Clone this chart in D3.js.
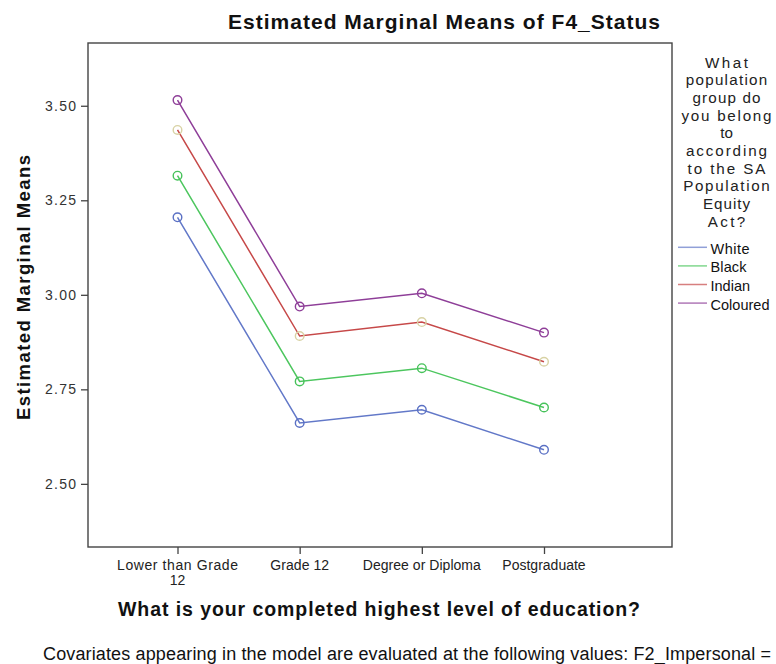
<!DOCTYPE html>
<html>
<head>
<meta charset="utf-8">
<script src="https://cdn.jsdelivr.net/npm/d3@7"></script>
<style>
  html, body { margin: 0; padding: 0; background: #fff; }
  svg { display: block; font-family: Arial, "Liberation Sans", sans-serif; }
</style>
</head>
<body>
<svg id="chart" width="776" height="664"></svg>
<script>
// Education levels on the x axis
const categories = ["Lower than Grade 12", "Grade 12", "Degree or Diploma", "Postgraduate"];
// Population groups (legend order)
const groups = ["White", "Black", "Indian", "Coloured"];
// Estimated marginal means per group, one value per education level
const white    = [3.205, 2.661, 2.696, 2.590];
const black    = [3.315, 2.771, 2.806, 2.702];
const indian   = [3.436, 2.891, 2.928, 2.823];
const coloured = [3.515, 2.969, 3.004, 2.900];
const yTicks = [2.50, 2.75, 3.00, 3.25, 3.50];

const seriesValues = [white, black, indian, coloured];
const lineColors   = ["#6278c8", "#4cc65e", "#c64848", "#8e3e98"];
const markerColors = ["#5a70c4", "#46c25a", "#d8d2a4", "#8e3e98"];

const svg = d3.select("#chart");
const frame = { left: 88, top: 43, right: 672, bottom: 547 };

// Spread a text element to a given width (only widens, never squeezes)
function spreadTo(sel, width) {
  sel.each(function () {
    const w = this.getComputedTextLength();
    if (w < width) {
      d3.select(this).attr("textLength", width).attr("lengthAdjust", "spacing");
    }
  });
  return sel;
}

const x = d3.scalePoint()
  .domain(categories)
  .range([177.5, 544]);

const y = d3.scaleLinear()
  .domain([2.333, 3.666])
  .range([frame.bottom, frame.top]);

// Title
spreadTo(svg.append("text")
  .attr("x", 444).attr("y", 29)
  .attr("text-anchor", "middle")
  .attr("font-size", 21).attr("font-weight", "bold")
  .attr("fill", "#111")
  .text("Estimated Marginal Means of F4_Status"), 432);

// Plot frame
svg.append("rect")
  .attr("x", frame.left).attr("y", frame.top)
  .attr("width", frame.right - frame.left)
  .attr("height", frame.bottom - frame.top)
  .attr("fill", "none")
  .attr("stroke", "#444").attr("stroke-width", 1.4);

// Y axis
const yAxis = d3.axisLeft(y)
  .tickValues(yTicks)
  .tickFormat(d3.format(".2f"))
  .tickSize(7).tickPadding(5);
const gy = svg.append("g")
  .attr("transform", `translate(${frame.left},0)`)
  .call(yAxis);
gy.select(".domain").remove();
gy.selectAll(".tick line").attr("stroke", "#444").attr("stroke-width", 1.3);
gy.selectAll(".tick text")
  .attr("font-size", 14).attr("fill", "#333")
  .attr("font-family", "Arial, 'Liberation Sans', sans-serif");
spreadTo(gy.selectAll(".tick text"), 31);

// X axis
const xAxis = d3.axisBottom(x).tickSize(7).tickFormat("");
const gx = svg.append("g")
  .attr("transform", `translate(0,${frame.bottom})`)
  .call(xAxis);
gx.select(".domain").remove();
gx.selectAll(".tick line").attr("stroke", "#444").attr("stroke-width", 1.3);

// X tick labels (wrapped like the source software)
const xLabelLines = {
  "Lower than Grade 12": ["Lower than Grade", "12"]
};
const xLabelWidths = {
  "Lower than Grade": 121, "Grade 12": 59, "Degree or Diploma": 118, "Postgraduate": 83
};
categories.forEach(c => {
  const lines = xLabelLines[c] || [c];
  lines.forEach((ln, i) => {
    const t = svg.append("text")
      .attr("x", x(c)).attr("y", 570 + i * 15)
      .attr("text-anchor", "middle")
      .attr("font-size", 14).attr("fill", "#222")
      .text(ln);
    if (xLabelWidths[ln]) spreadTo(t, xLabelWidths[ln]);
  });
});

// Axis titles
spreadTo(svg.append("text")
  .attr("x", 379).attr("y", 616)
  .attr("text-anchor", "middle")
  .attr("font-size", 19.5).attr("font-weight", "bold")
  .attr("fill", "#111")
  .text("What is your completed highest level of education?"), 522);

spreadTo(svg.append("text")
  .attr("transform", "translate(30,287.5) rotate(-90)")
  .attr("text-anchor", "middle")
  .attr("font-size", 18.5).attr("font-weight", "bold")
  .attr("fill", "#111")
  .text("Estimated Marginal Means"), 265);

// Lines and circle markers
const line = d3.line()
  .x((d, i) => x(categories[i]))
  .y(d => y(d));

seriesValues.forEach((vals, s) => {
  svg.append("path")
    .datum(vals)
    .attr("d", line)
    .attr("fill", "none")
    .attr("stroke", lineColors[s])
    .attr("stroke-width", 1.5);
});
seriesValues.forEach((vals, s) => {
  svg.selectAll(null)
    .data(vals)
    .enter().append("circle")
    .attr("cx", (d, i) => x(categories[i]))
    .attr("cy", d => y(d))
    .attr("r", 4.3)
    .attr("fill", "none")
    .attr("stroke", markerColors[s])
    .attr("stroke-width", 1.4);
});

// Legend title, one word group per line
const legendTitle = ["What", "population", "group do", "you belong", "to",
  "according", "to the SA", "Population", "Equity", "Act?"];
const legendTitleWidths = [43, 81.5, 68, 90, 12.5, 81, 78, 86.5, 47, 37.5];
legendTitle.forEach((ln, i) => {
  spreadTo(svg.append("text")
    .attr("x", 726.5).attr("y", 67.5 + i * 17.7)
    .attr("text-anchor", "middle")
    .attr("font-size", 15.2).attr("fill", "#222")
    .text(ln), legendTitleWidths[i]);
});

// Legend entries
const legendWidths = [39, 36, 39, 59];
groups.forEach((g, i) => {
  const ly = 247.3 + i * 18.6;
  svg.append("line")
    .attr("x1", 678).attr("x2", 707)
    .attr("y1", ly).attr("y2", ly)
    .attr("stroke", lineColors[i]).attr("stroke-width", 1.5)
    .attr("stroke-opacity", 0.7);
  spreadTo(svg.append("text")
    .attr("x", 710.5).attr("y", ly + 6.5)
    .attr("font-size", 14.5).attr("fill", "#111")
    .text(g), legendWidths[i]);
});

// Footnote
spreadTo(svg.append("text")
  .attr("x", 43).attr("y", 660)
  .attr("font-size", 18)
  .attr("font-family", "'Liberation Sans Narrow', 'Arial Narrow', Arial, sans-serif")
  .attr("fill", "#111")
  .text("Covariates appearing in the model are evaluated at the following values: F2_Impersonal ="), 728);
</script>
</body>
</html>
